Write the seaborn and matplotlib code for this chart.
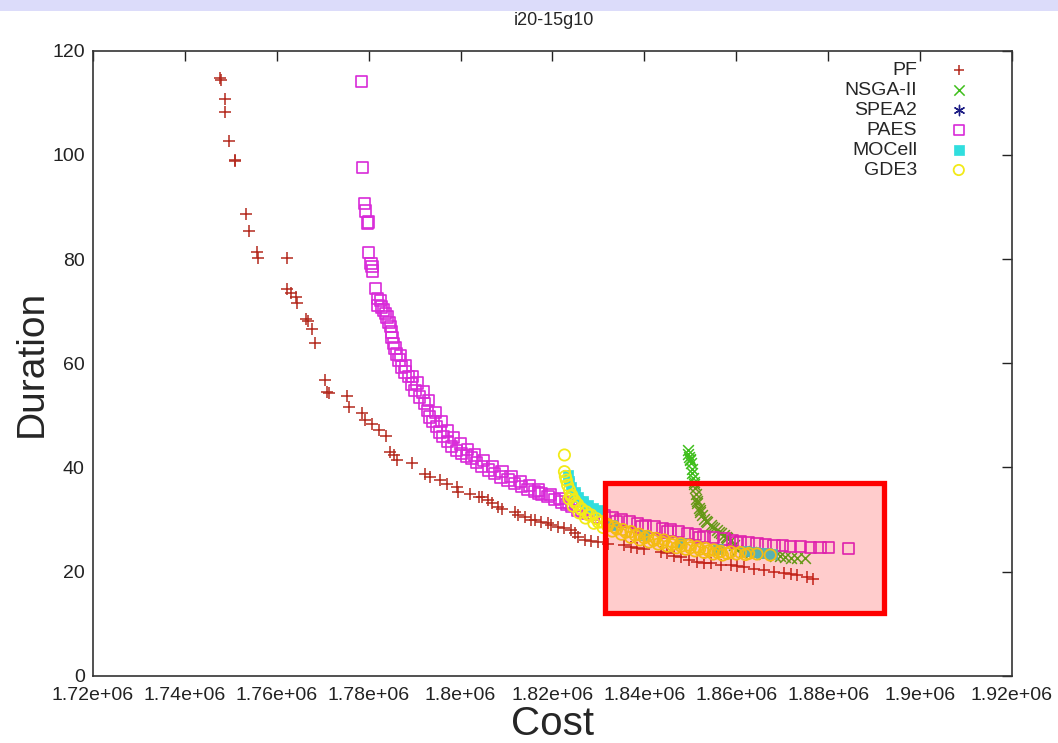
import matplotlib
matplotlib.use("Agg")
import matplotlib.pyplot as plt
from matplotlib.patches import Rectangle
import seaborn as sns
import pandas as pd

sns.set_style("white")
plt.rcParams['font.family'] = ['Liberation Sans', 'DejaVu Sans']

TITLE = "i20-15g10"
XLABEL = "Cost"
YLABEL = "Duration"
X_TICKS = [1.72e6, 1.74e6, 1.76e6, 1.78e6, 1.80e6, 1.82e6, 1.84e6, 1.86e6, 1.88e6, 1.90e6, 1.92e6]
X_TICK_LABELS = ["1.72e+06", "1.74e+06", "1.76e+06", "1.78e+06", "1.8e+06", "1.82e+06",
                 "1.84e+06", "1.86e+06", "1.88e+06", "1.9e+06", "1.92e+06"]
Y_TICKS = [0, 20, 40, 60, 80, 100, 120]

# highlighted region (cost range, duration range)
HIGHLIGHT_X = (1.8314e6, 1.8921e6)
HIGHLIGHT_Y = (12.1, 37.0)

# ---- series (cost in millions, duration) ----
pf_cost = [1.7477, 1.7478, 1.7488, 1.7488, 1.7496, 1.7508, 1.7510, 1.7534, 1.7539, 1.7558,
           1.7560, 1.7623, 1.7623, 1.7631, 1.7641, 1.7643, 1.7663, 1.7667, 1.7677, 1.7683,
           1.7706, 1.7710, 1.7713, 1.7753, 1.7757, 1.7786, 1.7792, 1.7807, 1.7822, 1.7838,
           1.7847, 1.7854, 1.7862, 1.7894, 1.7923, 1.7934, 1.7956, 1.7970, 1.7992, 1.7995,
           1.8021, 1.8039, 1.8047, 1.8060, 1.8068, 1.8082, 1.8091, 1.8118, 1.8125, 1.8140,
           1.8154, 1.8161, 1.8176, 1.8190, 1.8197, 1.8212, 1.8226, 1.8241, 1.8248, 1.8255,
           1.8270, 1.8284, 1.8299, 1.8320, 1.8356, 1.8371, 1.8385, 1.8400, 1.8436, 1.8450,
           1.8465, 1.8479, 1.8497, 1.8515, 1.8530, 1.8544, 1.8566, 1.8588, 1.8602, 1.8617,
           1.8638, 1.8660, 1.8682, 1.8703, 1.8718, 1.8732, 1.8754, 1.8768]
pf_dur = [114.8, 114.4, 110.7, 108.2, 102.7, 99.0, 98.8, 88.6, 85.4, 81.3,
          80.2, 80.1, 74.3, 73.4, 72.7, 71.6, 68.4, 68.1, 66.5, 63.8,
          56.7, 54.5, 54.2, 53.7, 51.6, 50.5, 49.1, 48.4, 47.2, 46.0,
          43.0, 42.4, 41.4, 40.8, 38.7, 38.1, 37.6, 36.9, 36.2, 35.3,
          34.9, 34.4, 34.3, 33.7, 33.1, 32.5, 32.0, 31.5, 30.9, 30.5,
          30.0, 29.9, 29.6, 29.3, 28.9, 28.6, 28.3, 28.0, 27.4, 26.6,
          26.1, 25.9, 25.7, 25.4, 25.1, 24.8, 24.6, 24.3, 23.8, 23.5,
          23.0, 22.8, 22.2, 21.9, 21.6, 21.6, 21.3, 21.2, 21.1, 21.0,
          20.6, 20.3, 20.0, 19.7, 19.5, 19.4, 19.0, 18.7]

nsga_cost = [1.8494, 1.8495, 1.8497, 1.8499, 1.8501, 1.8503, 1.8504, 1.8506, 1.8508, 1.8510,
             1.8512, 1.8513, 1.8515, 1.8518, 1.8522, 1.8526, 1.8530, 1.8537, 1.8544, 1.8551,
             1.8559, 1.8566, 1.8573, 1.8580, 1.8588, 1.8595, 1.8602, 1.8617, 1.8631, 1.8660,
             1.8685, 1.8696, 1.8707, 1.8718, 1.8732, 1.8750,
             1.8500, 1.8507, 1.8514, 1.8520, 1.8534, 1.8548, 1.8562, 1.8577]
nsga_dur = [43.3, 42.6, 42.0, 41.4, 40.8, 39.8, 38.9, 37.9, 36.9, 36.0,
            35.0, 34.0, 33.1, 32.3, 31.5, 30.8, 30.2, 29.5, 28.9, 28.4,
            28.0, 27.5, 27.0, 26.5, 26.1, 25.1, 24.2, 24.0, 23.8, 23.4,
            23.1, 23.0, 22.8, 22.6, 22.6, 22.6,
            41.6, 37.2, 33.6, 31.8, 29.7, 28.5, 27.6, 26.6]

spea2_cost = [1.8236, 1.8248, 1.8266]
spea2_dur = [37.5, 35.3, 33.5]

paes_cost = [1.7784, 1.7787, 1.7791, 1.7793, 1.7798, 1.7800, 1.7800, 1.7805, 1.7807, 1.7809,
             1.7815, 1.7819, 1.7820, 1.7826, 1.7828, 1.7833, 1.7836, 1.7840, 1.7844, 1.7847,
             1.7849, 1.7851, 1.7854, 1.7857, 1.7861, 1.7866, 1.7872, 1.7879, 1.7886, 1.7893,
             1.7901, 1.7911, 1.7922, 1.7928, 1.7933, 1.7940, 1.7948, 1.7955, 1.7962, 1.7971,
             1.7980, 1.7991, 1.8002, 1.8013, 1.8024, 1.8035, 1.8045, 1.8060, 1.8074, 1.8088,
             1.8103, 1.8118, 1.8132, 1.8147, 1.8161, 1.8169, 1.8176, 1.8190, 1.8205, 1.8219,
             1.8230, 1.8241, 1.8255, 1.8263, 1.8277, 1.8290, 1.8313, 1.8330, 1.8349, 1.8367,
             1.8385, 1.8403, 1.8421, 1.8439, 1.8457, 1.8475, 1.8494, 1.8512, 1.8530, 1.8551,
             1.8573, 1.8591, 1.8609, 1.8627, 1.8645, 1.8663, 1.8682, 1.8700, 1.8718, 1.8739,
             1.8761, 1.8782, 1.8801, 1.8844,
             1.7870, 1.7880, 1.7895, 1.7905, 1.7918, 1.7930, 1.7945, 1.7958, 1.7972, 1.7985,
             1.8000, 1.8015, 1.8030, 1.8050, 1.8070, 1.8090, 1.8110, 1.8130, 1.8150, 1.8170,
             1.8195, 1.8215, 1.8235, 1.8250, 1.8300, 1.8340, 1.8395, 1.8450, 1.8520, 1.8600]
paes_dur = [114.1, 97.6, 90.7, 89.2, 86.9, 87.1, 81.3, 79.2, 78.5, 77.7,
            74.3, 72.4, 71.1, 72.0, 70.8, 70.2, 69.5, 68.9, 67.8, 67.0,
            66.0, 65.0, 63.8, 62.9, 61.8, 60.6, 59.3, 58.3, 57.4, 56.0,
            54.8, 53.5, 52.3, 51.0, 49.7, 48.8, 47.8, 46.8, 45.9, 45.0,
            44.0, 43.3, 42.7, 42.2, 41.8, 41.0, 40.2, 39.5, 38.9, 38.2,
            37.6, 36.9, 36.3, 35.8, 35.4, 35.1, 34.9, 34.4, 33.8, 33.4,
            32.9, 32.5, 31.8, 31.5, 31.2, 31.0, 30.7, 30.3, 30.0, 29.6,
            29.3, 28.9, 28.6, 28.2, 28.0, 27.7, 27.4, 27.1, 26.8, 26.6,
            26.3, 26.0, 25.7, 25.5, 25.4, 25.2, 25.1, 25.0, 24.9, 24.8,
            24.7, 24.6, 24.6, 24.5,
            61.5, 59.5, 57.5, 56.2, 54.5, 52.8, 50.5, 48.8, 47.0, 45.8,
            44.5, 43.4, 42.4, 41.3, 40.2, 39.2, 38.3, 37.3, 36.5, 35.7,
            34.8, 34.0, 33.3, 32.8, 30.4, 29.6, 28.6, 27.6, 26.6, 25.6]

mocell_cost = [1.8234, 1.8236, 1.8241, 1.8248, 1.8255, 1.8266, 1.8277, 1.8288, 1.8299,
               1.8330, 1.8400, 1.8480, 1.8560, 1.8620, 1.8640, 1.8653, 1.8667, 1.8678]
mocell_dur = [38.5, 37.5, 36.3, 35.3, 34.4, 33.5, 32.8, 32.3, 31.8,
              28.9, 27.0, 25.5, 24.3, 23.9, 23.7, 23.6, 23.5, 23.4]

gde3_cost = [1.8226, 1.8226, 1.8228, 1.8230, 1.8233, 1.8237, 1.8242, 1.8248, 1.8255, 1.8263,
             1.8273, 1.8284, 1.8295, 1.8306, 1.8320, 1.8335, 1.8353, 1.8371, 1.8389, 1.8407,
             1.8425, 1.8443, 1.8461, 1.8479, 1.8497, 1.8515, 1.8533, 1.8551, 1.8566, 1.8588,
             1.8609, 1.8627, 1.8645, 1.8674,
             1.8236, 1.8245, 1.8258, 1.8272, 1.8290, 1.8310, 1.8330, 1.8350, 1.8370, 1.8390,
             1.8410, 1.8430, 1.8450, 1.8470, 1.8490, 1.8510, 1.8530, 1.8550, 1.8570,
             1.8240, 1.8250, 1.8262, 1.8278, 1.8300, 1.8320, 1.8340, 1.8360, 1.8380, 1.8400,
             1.8420, 1.8440, 1.8460, 1.8480, 1.8500, 1.8520, 1.8540, 1.8560, 1.8580, 1.8600,
             1.8620]
gde3_dur = [42.4, 39.2, 38.3, 37.6, 36.6, 35.7, 34.7, 33.7, 32.9, 32.1,
            31.5, 30.9, 30.2, 29.6, 29.1, 28.6, 28.1, 27.7, 27.2, 26.8,
            26.4, 26.1, 25.7, 25.4, 25.1, 24.8, 24.5, 24.2, 23.9, 23.8,
            23.7, 23.5, 23.4, 23.2,
            34.0, 32.6, 31.3, 30.3, 29.3, 28.5, 27.8, 27.2, 26.6, 26.1,
            25.7, 25.3, 24.9, 24.6, 24.3, 24.0, 23.7, 23.4, 23.2,
            34.5, 33.2, 32.0, 30.9, 29.5, 28.8, 28.2, 27.6, 27.0, 26.5,
            26.0, 25.6, 25.2, 24.9, 24.6, 24.3, 24.0, 23.7, 23.5, 23.4,
            23.3]

series = [
    ("PF", pf_cost, pf_dur, dict(marker="+", color="#b42a1e", s=75, linewidths=1.1)),
    ("NSGA-II", nsga_cost, nsga_dur, dict(marker="x", color="#3fbf1c", s=60, linewidths=1.1)),
    ("SPEA2", spea2_cost, spea2_dur, dict(marker=(6, 2, 0), color="#1c1c84", s=50, linewidths=1.0)),
    ("PAES", paes_cost, paes_dur, dict(marker="s", facecolor="none", edgecolor="#d82ad8", s=66, linewidths=1.2)),
    ("MOCell", mocell_cost, mocell_dur, dict(marker="s", color="#30dede", edgecolor="#30dede", s=60, linewidths=0.5)),
    ("GDE3", gde3_cost, gde3_dur, dict(marker="o", facecolor="none", edgecolor="#f2ea18", s=66, linewidths=1.3)),
]

fig = plt.figure(figsize=(10.58, 7.43), dpi=100)
ax = fig.add_axes([0.0879, 0.0902, 0.8686, 0.8418])

# top lavender band
fig.patches.append(Rectangle((0, 1 - 11 / 743), 1, 11 / 743, transform=fig.transFigure,
                             facecolor="#dcdcfa", edgecolor="none", zorder=0))

for name, xs, ys, kw in series:
    df = pd.DataFrame({"cost": [v * 1e6 for v in xs], "duration": ys})
    sns.scatterplot(data=df, x="cost", y="duration", ax=ax, label=name, zorder=3, **kw)

# highlighted region
hx0, hx1 = HIGHLIGHT_X
hy0, hy1 = HIGHLIGHT_Y
ax.add_patch(Rectangle((hx0, hy0), hx1 - hx0, hy1 - hy0, facecolor=(1, 0, 0, 0.2),
                       edgecolor="#ff0000", linewidth=3.8, zorder=5))

ax.set_xlim(X_TICKS[0], X_TICKS[-1])
ax.set_ylim(0, 120)
ax.set_xticks(X_TICKS)
ax.set_xticklabels(X_TICK_LABELS)
ax.set_yticks(Y_TICKS)
ax.tick_params(direction="in", length=7, width=1.0, top=True, right=True,
               labelsize=14, colors="#222222")
ax.tick_params(axis="x", pad=8)
ax.tick_params(axis="y", pad=6)
for sp in ax.spines.values():
    sp.set_color("#333333")
    sp.set_linewidth(1.2)

ax.set_xlabel(XLABEL, fontsize=29, labelpad=1)
ax.set_ylabel(YLABEL, fontsize=28, labelpad=2)
fig.text(0.5235, 0.973, TITLE, ha="center", va="center", fontsize=13)

leg = ax.legend(loc="upper right", bbox_to_anchor=(0.958, 0.982), markerfirst=False,
                frameon=False, fontsize=14, labelspacing=0.12, handlelength=1.5,
                handletextpad=1.4, borderaxespad=0, borderpad=0, scatterpoints=1)
for h in leg.legend_handles:
    h.set_sizes([55])

fig.savefig("out.png", dpi=100)
